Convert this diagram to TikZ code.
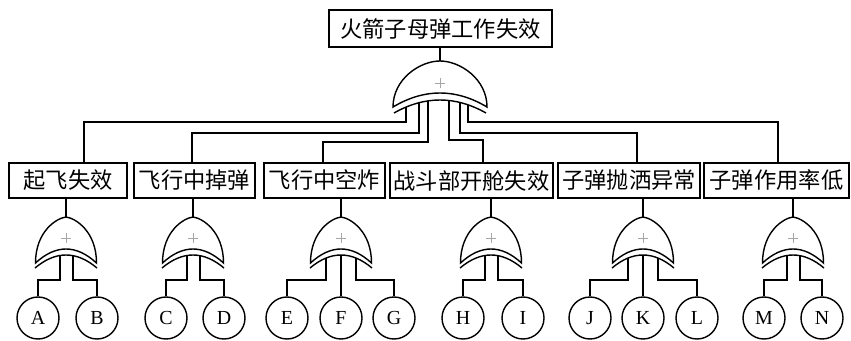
\documentclass[tikz,border=0pt]{standalone}
\usepackage{fontspec}
\setmainfont{Liberation Serif}
\newfontfamily\cjk{Noto Sans CJK SC}
\def\pxl{0.03cm}
\tikzset{
  wire/.style={line width=1.2pt},
  box/.style={draw, line width=1.3pt, inner sep=0pt,
    font=\cjk\fontsize{19}{19}\selectfont, minimum height=35*\pxl},
  ev/.style={draw, circle, line width=1.2pt, minimum size=42*\pxl,
    inner sep=0pt, font=\fontsize{17}{17}\selectfont},
  gate/.style={line width=1.2pt, fill=white},
  plusmark/.style={gray!70, line width=0.5pt},
  % OR gate of the lower level (pointed top)
  smallor/.pic={
    \coordinate (-top) at (0,0);
    \draw[gate] (0,0) .. controls (9,1) and (30.5,14) .. (30.5,46)
      .. controls (10.17,27.33) and (-10.17,27.33) .. (-30.5,46)
      .. controls (-30.5,14) and (-9,1) .. cycle;
    \draw[gate, fill=none] (31,51) .. controls (10.33,33.67) and (-10.33,33.67) .. (-31,51);
    \draw[plusmark] (-5,21) -- (5,21) (0,16) -- (0,26);
  },
  % OR gate under the top event (rounded top)
  bigor/.pic={
    \coordinate (-top) at (0,0);
    \draw[gate] (0,0) .. controls (20,0) and (47,18) .. (47,46)
      .. controls (15.67,27.33) and (-15.67,27.33) .. (-47,46)
      .. controls (-47,18) and (-20,0) .. cycle;
    \draw[gate, fill=none] (46,52) .. controls (15.33,34.67) and (-15.33,34.67) .. (-46,52);
    \draw[plusmark] (-5,22) -- (5,22) (0,17) -- (0,27);
  }
}
\begin{document}
\begin{tikzpicture}[x=0.03cm, y=-0.03cm]
\useasboundingbox (0,0) rectangle (851,340);

% top event and its gate
\node[box, minimum width=223*\pxl, minimum height=37*\pxl] (top) at (440.5,28.5) {火箭子母弹工作失效};
\pic (g0) at (440,61) {bigor};
\draw[wire] (top.south -| g0-top) -- (g0-top);

% intermediate events
\node[box, minimum width=118*\pxl] (e1) at (68,180.5) {起飞失效};
\node[box, minimum width=121*\pxl] (e2) at (194.5,180.5) {飞行中掉弹};
\node[box, minimum width=121*\pxl] (e3) at (324.5,180.5) {飞行中空炸};
\node[box, minimum width=163*\pxl] (e4) at (471.5,180.5) {战斗部开舱失效};
\node[box, minimum width=142*\pxl] (e5) at (629,180.5) {子弹抛洒异常};
\node[box, minimum width=145*\pxl] (e6) at (776.5,180.5) {子弹作用率低};

% branches from the top gate
\foreach \px/\lv/\sx/\e in {406/122/84/e1, 419/133/192/e2, 428/142/323/e3,
                            449/140/483/e4, 460/133/637/e5, 468/122/778/e6} {
  \coordinate (p) at (\px,{100+13*((\px-440)/46)*((\px-440)/46)});
  \draw[wire] (p) -- (p |- 0,\lv) -| (\e.north -| \sx,0);
}

% lower gates
\foreach \i/\cx in {1/66, 2/193, 3/341, 4/491, 5/643, 6/793} {
  \pic (g\i) at (\cx,217) {smallor};
  \draw[wire] (e\i.south -| g\i-top) -- (g\i-top);
}

% basic events
\foreach \n/\x in {A/38, B/97, C/166, D/224, E/287, F/341, G/394,
                   H/463, I/523, J/590, K/643, L/697, M/764, N/822}
  \node[ev] (\n) at (\x,318) {\n};

% wires from lower gates to basic events
\foreach \cx/\d/\n in {66/-6/A, 66/7/B, 193/-6/C, 193/7/D,
                       341/-15/E, 341/0/F, 341/15/G, 491/-6/H, 491/7/I,
                       643/-15/J, 643/0/K, 643/15/L, 793/-6/M, 793/7/N} {
  \coordinate (q) at ({\cx+\d},{255+13*(\d/31)*(\d/31)});
  \draw[wire] (q) -- (q |- 0,280) -| (\n.north);
}
\end{tikzpicture}
\end{document}
